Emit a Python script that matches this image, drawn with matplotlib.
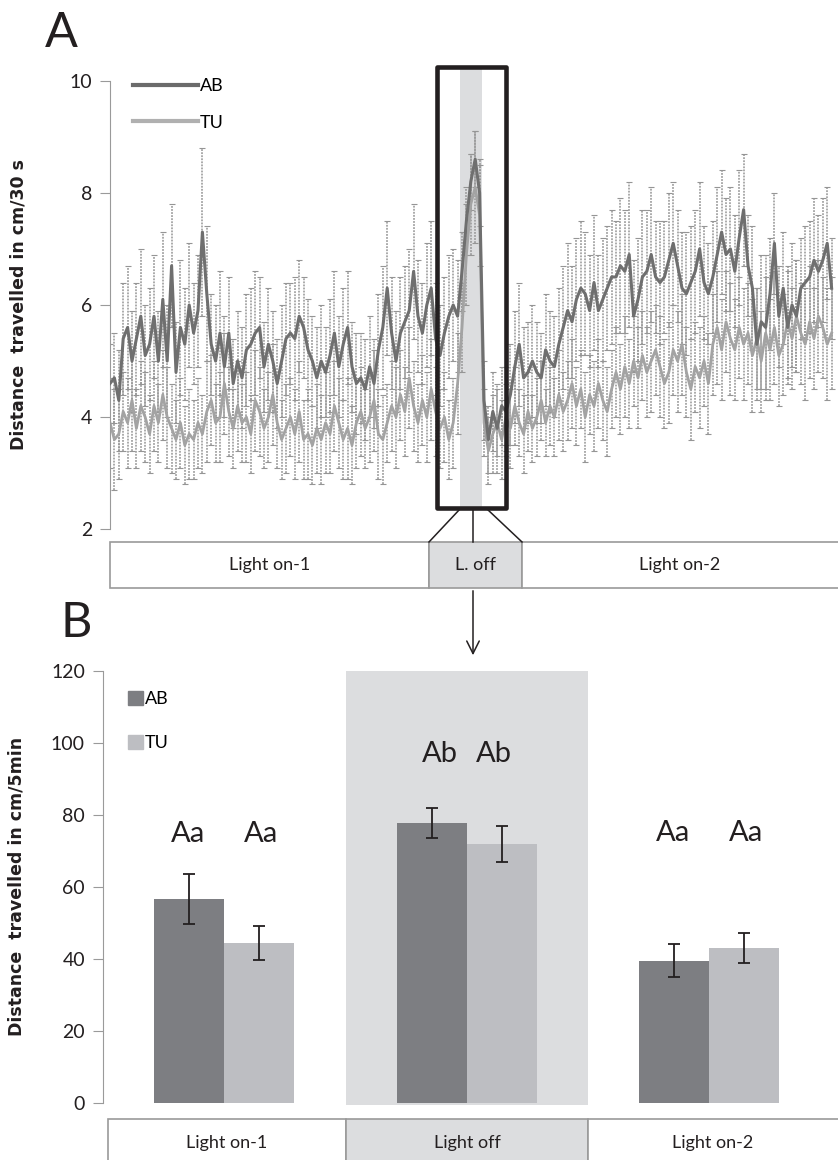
import matplotlib.pyplot as plt
import numpy as np
from matplotlib.lines import Line2D
from matplotlib.patches import Patch, Rectangle

plt.rcParams["font.family"] = ["Lato", "DejaVu Sans"]

# ---- panel A: distance per 30 s bin (mean and SEM) ----
AB_MEAN = [
    4.6, 4.7, 4.3, 5.4, 5.6, 5.0, 5.4, 5.8, 5.1, 5.3,
    5.8, 5.0, 6.1, 5.0, 6.7, 4.8, 5.6, 5.3, 6.0, 5.5,
    5.9, 7.3, 6.2, 5.3, 5.0, 5.5, 4.9, 5.5, 4.6, 5.0,
    4.7, 5.2, 5.3, 5.5, 5.6, 4.9, 5.3, 5.0, 4.6, 5.0,
    5.4, 5.5, 5.4, 5.8, 5.6, 5.2, 5.0, 4.7, 5.0, 4.8,
    5.1, 5.5, 4.9, 5.3, 5.6, 4.9, 4.6, 4.7, 4.5, 4.9,
    4.6, 5.2, 5.6, 6.3, 5.5, 5.0, 5.5, 5.7, 5.9, 6.6,
    5.8, 5.5, 6.0, 6.3, 5.4, 5.1, 5.5, 5.8, 6.0, 5.8,
    6.6, 7.5, 8.2, 8.6, 8.0,
    4.3, 3.6, 4.1, 3.8, 4.2, 4.1, 4.4, 4.9, 5.3, 4.7,
    4.8, 5.0, 4.8, 4.7, 5.2, 5.0, 4.9, 5.3, 5.6, 5.9,
    5.7, 6.1, 6.3, 6.2, 5.9, 6.4, 5.9, 6.1, 6.3, 6.5,
    6.5, 6.7, 6.6, 6.9, 5.8, 6.1, 6.5, 6.6, 6.9, 6.5,
    6.4, 6.5, 6.8, 7.1, 6.7, 6.3, 6.2, 6.4, 6.6, 7.0,
    6.4, 6.2, 6.5, 6.9, 7.3, 6.9, 7.0, 6.6, 7.2, 7.7,
    6.7, 6.3, 5.3, 5.7, 5.6, 6.2, 7.1, 5.8, 6.3, 5.6,
    6.0, 5.8, 6.3, 6.4, 6.5, 6.8, 6.6, 6.8, 7.1, 6.3,
]
AB_SEM = [
    0.7, 0.8, 0.9, 1.0, 1.1, 0.9, 1.0, 1.2, 0.9, 1.0,
    1.1, 0.9, 1.2, 1.0, 1.1, 0.9, 1.2, 1.0, 1.1, 0.9,
    1.0, 1.5, 1.2, 0.9, 1.0, 1.1, 0.9, 1.0, 0.8, 0.9,
    0.9, 1.0, 1.0, 1.1, 0.9, 0.8, 1.0, 0.9, 0.8, 1.0,
    1.0, 0.9, 1.1, 1.0, 0.9, 0.9, 0.8, 0.9, 1.0, 0.8,
    1.0, 1.1, 0.9, 1.0, 1.0, 0.8, 0.9, 0.8, 0.9, 0.9,
    0.8, 1.0, 1.1, 1.2, 1.0, 0.9, 1.0, 1.0, 1.1, 1.2,
    1.0, 0.9, 1.1, 1.2, 1.0, 0.9, 1.0, 1.1, 1.0, 1.0,
    0.7, 0.6, 0.5, 0.5, 0.6,
    0.7, 0.6, 0.7, 0.8, 0.7, 0.8, 0.9, 1.0, 1.1, 0.9,
    0.9, 1.0, 0.9, 0.8, 1.0, 0.9, 0.9, 1.0, 1.1, 1.2,
    1.0, 1.1, 1.2, 1.1, 1.0, 1.2, 1.0, 1.1, 1.1, 1.2,
    1.0, 1.2, 1.1, 1.3, 1.0, 1.1, 1.2, 1.1, 1.2, 1.0,
    1.1, 1.0, 1.2, 1.1, 1.0, 1.0, 1.1, 1.0, 1.1, 1.2,
    1.0, 0.9, 1.0, 1.2, 1.1, 1.0, 1.1, 1.0, 1.2, 1.0,
    0.9, 1.1, 1.0, 1.2, 1.3, 1.0, 0.9, 0.9, 1.0, 1.0,
    1.1, 1.0, 0.9, 1.0, 1.0, 1.1, 1.0, 1.1, 1.0, 0.9,
]
TU_MEAN = [
    3.9, 3.6, 3.7, 4.1, 3.9, 4.3, 3.8, 4.2, 4.0, 3.7,
    4.2, 3.9, 4.4, 4.0, 3.8, 3.6, 3.9, 3.5, 3.7, 3.6,
    3.9, 3.7, 4.1, 4.3, 3.9, 4.0, 4.6, 4.1, 3.8, 4.2,
    3.9, 4.0, 3.7, 4.3, 4.1, 3.8, 4.0, 4.4, 3.9, 3.6,
    3.8, 4.0, 3.7, 4.1, 3.6, 3.7, 3.5, 3.8, 3.6, 3.9,
    3.7, 4.2, 3.9, 3.6, 3.8, 3.5, 3.9, 4.1, 3.8, 4.0,
    4.3, 3.7, 3.6, 3.9, 4.2, 4.0, 4.4, 4.1, 4.7, 4.2,
    3.9, 4.3, 4.0, 4.5, 4.1, 3.8, 4.0, 3.6, 3.9, 4.6,
    5.6, 6.9, 7.8, 8.1, 7.6,
    3.9, 3.4, 3.7, 3.9, 3.6, 4.0, 3.8, 4.2, 3.9, 3.7,
    4.1, 3.8, 4.0, 4.3, 3.9, 4.2, 4.0, 4.4, 4.1, 4.3,
    4.6, 4.2, 4.5, 4.0, 4.4, 4.2, 4.6, 4.3, 4.1, 4.5,
    4.8, 4.5, 4.9, 4.6, 5.0, 4.7, 5.1, 4.8, 5.0, 5.2,
    4.9, 4.6, 4.8, 5.2, 5.0, 5.3, 4.8, 4.5, 4.9, 4.7,
    5.0, 4.6, 5.3, 5.6, 5.2, 5.7, 5.4, 5.2, 5.6, 5.3,
    5.5, 5.1, 5.4, 5.0, 5.5, 5.2, 5.6, 5.1, 5.3, 5.7,
    5.4, 5.8, 5.5, 5.3, 5.7, 5.4, 5.8, 5.6, 5.3, 5.5,
]
TU_SEM = [
    0.8, 0.9, 0.8, 0.7, 0.8, 0.9, 0.7, 0.8, 0.8, 0.7,
    0.8, 0.7, 0.8, 0.9, 0.8, 0.7, 0.8, 0.7, 0.8, 0.7,
    0.8, 0.7, 0.9, 0.8, 0.7, 0.8, 0.9, 0.8, 0.7, 0.8,
    0.7, 0.8, 0.7, 0.9, 0.8, 0.7, 0.8, 0.9, 0.8, 0.7,
    0.8, 0.7, 0.8, 0.9, 0.7, 0.8, 0.7, 0.8, 0.8, 0.9,
    0.7, 0.8, 0.8, 0.7, 0.9, 0.7, 0.8, 0.8, 0.7, 0.8,
    0.9, 0.8, 0.8, 0.7, 0.8, 0.9, 0.8, 0.8, 0.9, 0.8,
    0.7, 0.8, 0.8, 0.9, 0.8, 0.7, 0.8, 0.7, 0.8, 0.9,
    0.8, 0.9, 0.9, 1.0, 0.9,
    0.6, 0.6, 0.7, 0.6, 0.7, 0.6, 0.7, 0.7, 0.6, 0.7,
    0.7, 0.6, 0.7, 0.7, 0.6, 0.7, 0.7, 0.8, 0.7, 0.7,
    0.8, 0.7, 0.7, 0.8, 0.7, 0.8, 0.8, 0.7, 0.8, 0.7,
    0.8, 0.8, 0.9, 0.8, 0.8, 0.9, 0.8, 0.8, 0.9, 0.8,
    0.9, 0.8, 0.9, 0.8, 0.9, 0.9, 0.8, 0.9, 0.8, 0.9,
    0.8, 0.9, 0.9, 1.0, 0.9, 0.9, 1.0, 0.9, 0.9, 1.0,
    0.9, 1.0, 0.9, 0.9, 1.0, 0.9, 1.0, 0.9, 0.9, 1.0,
    0.9, 1.0, 0.9, 1.0, 1.0, 0.9, 1.0, 0.9, 1.0, 1.0,
]
LIGHT_OFF_BINS = (79.5, 84.5)

# ---- panel B: distance per 5 min phase ----
PHASES = ["Light on-1", "Light off", "Light on-2"]
BAR_AB = [56.6, 77.6, 39.5]
BAR_AB_ERR = [7.0, 4.2, 4.7]
BAR_TU = [44.4, 71.9, 42.9]
BAR_TU_ERR = [4.7, 5.1, 4.2]
LETTERS_AB = ["Aa", "Ab", "Aa"]
LETTERS_TU = ["Aa", "Ab", "Aa"]

W, H = 838, 1160
DARK = "#7d7e82"
LIGHT = "#bdbec2"
SHADE = "#dcdddf"
INK = "#231f20"
SPINE = "#9a9a9a"


def fx(px):
    return px / W


def fy(py):
    return 1 - py / H


fig = plt.figure(figsize=(W / 100, H / 100), dpi=100)

# ---------------- panel A ----------------
a_top, a_bot = 80.7, 529.3
axA = fig.add_axes([fx(110), fy(a_bot), fx(838 - 110), (a_bot - a_top) / H])
axA.set_facecolor("none")
x = np.arange(len(AB_MEAN))
# shaded light-off period spans the zoom box height
axA.axvspan(*LIGHT_OFF_BINS, ymin=(a_bot - 508) / (a_bot - a_top),
            ymax=(a_bot - 69) / (a_bot - a_top), color=SHADE, lw=0,
            zorder=0, clip_on=False)
for mean, sem in [(TU_MEAN, TU_SEM), (AB_MEAN, AB_SEM)]:
    eb = axA.errorbar(x, mean, yerr=sem, fmt="none", ecolor="#959595",
                      elinewidth=1.1, capsize=2.4, capthick=0.8, zorder=1)
    eb[2][0].set_linestyle((0, (1.2, 0.8)))
axA.plot(x, TU_MEAN, color="#a3a3a3", lw=2.0, zorder=2)
axA.plot(x, AB_MEAN, color="#6f6f6f", lw=2.2, zorder=3)
axA.set_xlim(0, 165.45)
axA.set_ylim(2, 10)
axA.set_yticks([2, 4, 6, 8, 10])
axA.set_xticks([])
for side in ["top", "right", "bottom"]:
    axA.spines[side].set_visible(False)
axA.spines["left"].set_color(SPINE)
axA.tick_params(axis="y", length=7, color=SPINE, labelsize=14,
                labelcolor=INK, pad=6)
axA.set_ylabel("Distance  travelled in cm/30 s", family="DejaVu Sans",
               fontweight="bold", fontsize=12.5, color=INK, labelpad=30)
axA.legend(
    [Line2D([], [], color="#6b6b6b", lw=3), Line2D([], [], color="#b0b0b0", lw=3)],
    ["AB", "TU"], loc="upper left", bbox_to_anchor=(fx(133), fy(78)),
    bbox_transform=fig.transFigure, frameon=False, fontsize=13,
    handlelength=3.6, handletextpad=0.1, labelspacing=1.15,
    borderpad=0, borderaxespad=0,
)

# ---------------- panel B ----------------
axB = fig.add_axes([fx(103), fy(1102.7), fx(830.5 - 103), 432 / H])
axB.set_facecolor("none")
centers = np.arange(len(PHASES)) + 0.5
bw = 0.288
axB.axvspan(1, 2, ymin=-0.006, ymax=1, color=SHADE, lw=0, zorder=0,
            clip_on=False)
axB.bar(centers - bw / 2, BAR_AB, bw, color=DARK, zorder=2)
axB.bar(centers + bw / 2, BAR_TU, bw, color=LIGHT, zorder=2)
axB.errorbar(centers - bw / 2, BAR_AB, yerr=BAR_AB_ERR, fmt="none",
             ecolor=INK, elinewidth=1.3, capsize=4.5, capthick=1.3, zorder=3)
axB.errorbar(centers + bw / 2, BAR_TU, yerr=BAR_TU_ERR, fmt="none",
             ecolor=INK, elinewidth=1.3, capsize=4.5, capthick=1.3, zorder=3)
letter_offset = [0.15, 0.11, 0.15]
letter_y = [72.5, 94.6, 72.6]
for c, off, ly, la, lt in zip(centers, letter_offset, letter_y, LETTERS_AB, LETTERS_TU):
    axB.text(c - off, ly, la, ha="center", va="baseline", fontsize=21, color=INK)
    axB.text(c + off, ly, lt, ha="center", va="baseline", fontsize=21, color=INK)
axB.set_xlim(0, 3)
axB.set_ylim(0, 120)
axB.set_yticks(range(0, 121, 20))
axB.set_xticks([])
for side in ["top", "right", "bottom"]:
    axB.spines[side].set_visible(False)
axB.spines["left"].set_color(SPINE)
axB.tick_params(axis="y", length=7, color=SPINE, labelsize=14,
                labelcolor=INK, pad=6)
axB.set_ylabel("Distance  travelled in cm/5min", family="DejaVu Sans",
               fontweight="bold", fontsize=12.5, color=INK, labelpad=18)
axB.legend(
    [Patch(color=DARK), Patch(color=LIGHT)], ["AB", "TU"],
    loc="upper left", bbox_to_anchor=(fx(128), fy(691)),
    bbox_transform=fig.transFigure, frameon=False, fontsize=13,
    handlelength=0.85, handleheight=0.85, handletextpad=0.1,
    labelspacing=1.5, borderpad=0, borderaxespad=0,
)

# ---------------- overlay: phase strips, zoom box, arrow ----------------
ov = fig.add_axes([0, 0, 1, 1], zorder=5)
ov.set_xlim(0, W)
ov.set_ylim(H, 0)
ov.axis("off")
ov.patch.set_visible(False)

ov.text(45, 47, "A", fontsize=35, color=INK, va="baseline")
ov.text(60, 637, "B", fontsize=35, color=INK, va="baseline")


def strip(edges, top, bottom, labels, shaded, ly):
    for (a, b), lab, sh in zip(zip(edges[:-1], edges[1:]), labels, shaded):
        ov.add_patch(Rectangle((a, top), b - a, bottom - top,
                               facecolor=SHADE if sh else "white",
                               edgecolor=SPINE, lw=1.2, clip_on=False))
        ov.text((a + min(b, W)) / 2, ly, lab,
                ha="center", va="center", fontsize=13, color=INK)


strip([110, 429, 522, 850], 542, 588, ["Light on-1", "L. off", "Light on-2"],
      [False, True, False], 565)
strip([108, 346, 588, 850], 1119, 1175, PHASES, [False, True, False], 1143)

ov.add_patch(Rectangle((437, 67), 69, 441, facecolor="none", edgecolor=INK,
                       lw=3.3, joinstyle="round"))
for x0, x1 in [(460, 429), (473, 473), (487, 522)]:
    ov.plot([x0, x1], [509, 542], color=INK, lw=1.1)
ov.annotate("", xy=(473, 658), xytext=(473, 588),
            arrowprops=dict(arrowstyle="->,head_length=0.9,head_width=0.45",
                            color=INK, lw=1.1))

fig.savefig("out.png", dpi=100)
